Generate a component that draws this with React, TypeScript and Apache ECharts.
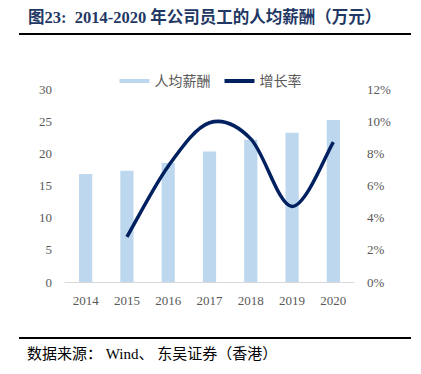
import React, { useEffect, useRef } from "react";
import * as echarts from "echarts";

const categories = ["2014", "2015", "2016", "2017", "2018", "2019", "2020"];
const salary = [16.8, 17.3, 18.5, 20.3, 22.1, 23.2, 25.2];
const growth: (number | null)[] = [null, 2.8, 7.2, 9.9, 8.9, 4.7, 8.7];

const SERIF = "'Liberation Serif', 'Times New Roman', 'Noto Sans CJK SC', serif";
const LINE_COLOR = "#002060";

// Catmull-Rom (Excel-like) smoothing through points computed by the axes
function buildPath(pts: number[][]): string {
  if (pts.length < 2) return "";
  let d = `M${pts[0][0]},${pts[0][1]}`;
  for (let i = 0; i < pts.length - 1; i++) {
    const p0 = pts[i - 1] || pts[i];
    const p1 = pts[i];
    const p2 = pts[i + 1];
    const p3 = pts[i + 2] || p2;
    const t = 1 / 6;
    const c1x = p1[0] + (p2[0] - p0[0]) * t;
    const c1y = p1[1] + (p2[1] - p0[1]) * t;
    const c2x = p2[0] - (p3[0] - p1[0]) * t;
    const c2y = p2[1] - (p3[1] - p1[1]) * t;
    d += ` C${c1x},${c1y} ${c2x},${c2y} ${p2[0]},${p2[1]}`;
  }
  return d;
}

export default function App() {
  const ref = useRef<HTMLDivElement>(null);
  useEffect(() => {
    if (!ref.current) return;
    const chart = echarts.init(ref.current, undefined, { renderer: "svg" });
    const firstIdx = growth.findIndex((v) => v != null);
    chart.setOption({
      animation: false,
      backgroundColor: "#ffffff",
      textStyle: { fontFamily: SERIF },
      legend: {
        top: 69,
        left: "center",
        itemGap: 14,
        itemWidth: 30,
        itemHeight: 4,
        textStyle: { color: "#595959", fontSize: 14, fontFamily: SERIF },
        data: [
          { name: "人均薪酬", icon: "rect" },
          { name: "增长率", icon: "rect" },
        ],
      },
      grid: { left: 65, right: 67, top: 89, bottom: 92 },
      xAxis: {
        type: "category",
        data: categories,
        axisLine: { lineStyle: { color: "#d9d9d9" } },
        axisTick: { show: false },
        axisLabel: { color: "#595959", fontSize: 13, margin: 12, fontFamily: SERIF },
      },
      yAxis: [
        {
          type: "value",
          min: 0,
          max: 30,
          interval: 5,
          splitLine: { show: false },
          axisLine: { show: false },
          axisTick: { show: false },
          axisLabel: { color: "#595959", fontSize: 13, margin: 13, fontFamily: SERIF },
        },
        {
          type: "value",
          min: 0,
          max: 12,
          interval: 2,
          splitLine: { show: false },
          axisLine: { show: false },
          axisTick: { show: false },
          axisLabel: { color: "#595959", fontSize: 13, margin: 13, formatter: "{value}%", fontFamily: SERIF },
        },
      ],
      series: [
        {
          name: "人均薪酬",
          type: "bar",
          data: salary,
          barWidth: "32%",
          z: 2,
          itemStyle: { color: "#BDD7EE" },
        },
        {
          name: "增长率",
          type: "custom",
          yAxisIndex: 1,
          z: 10,
          itemStyle: { color: LINE_COLOR },
          data: growth.map((v, i) => [i, v == null ? "-" : v]),
          renderItem: (params: any, api: any) => {
            if (params.dataIndex !== firstIdx) return null;
            const pts: number[][] = [];
            growth.forEach((v, i) => {
              if (v != null) pts.push(api.coord([i, v]));
            });
            return {
              type: "path",
              z2: 100,
              shape: { pathData: buildPath(pts) },
              style: { stroke: LINE_COLOR, lineWidth: 3.5, fill: "none" },
            };
          },
        },
      ],
      graphic: [
        {
          type: "text",
          left: 28,
          top: 9,
          style: {
            text: "图23:  2014-2020 年公司员工的人均薪酬（万元）",
            font: `bold 16.5px ${SERIF}`,
            fill: "#1f3864",
          },
        },
        {
          type: "line",
          shape: { x1: 19, y1: 34, x2: 411, y2: 34 },
          style: { stroke: "#000000", lineWidth: 2 },
        },
        {
          type: "line",
          shape: { x1: 19, y1: 338, x2: 411, y2: 338 },
          style: { stroke: "#000000", lineWidth: 2 },
        },
        {
          type: "text",
          left: 27,
          top: 346,
          style: {
            text: "数据来源： Wind、 东吴证券（香港）",
            font: `15px ${SERIF}`,
            fill: "#000000",
          },
        },
      ],
    });
    return () => chart.dispose();
  }, []);
  return <div ref={ref} style={{ width: 421, height: 374, position: "absolute", left: 0, top: 0 }} />;
}
